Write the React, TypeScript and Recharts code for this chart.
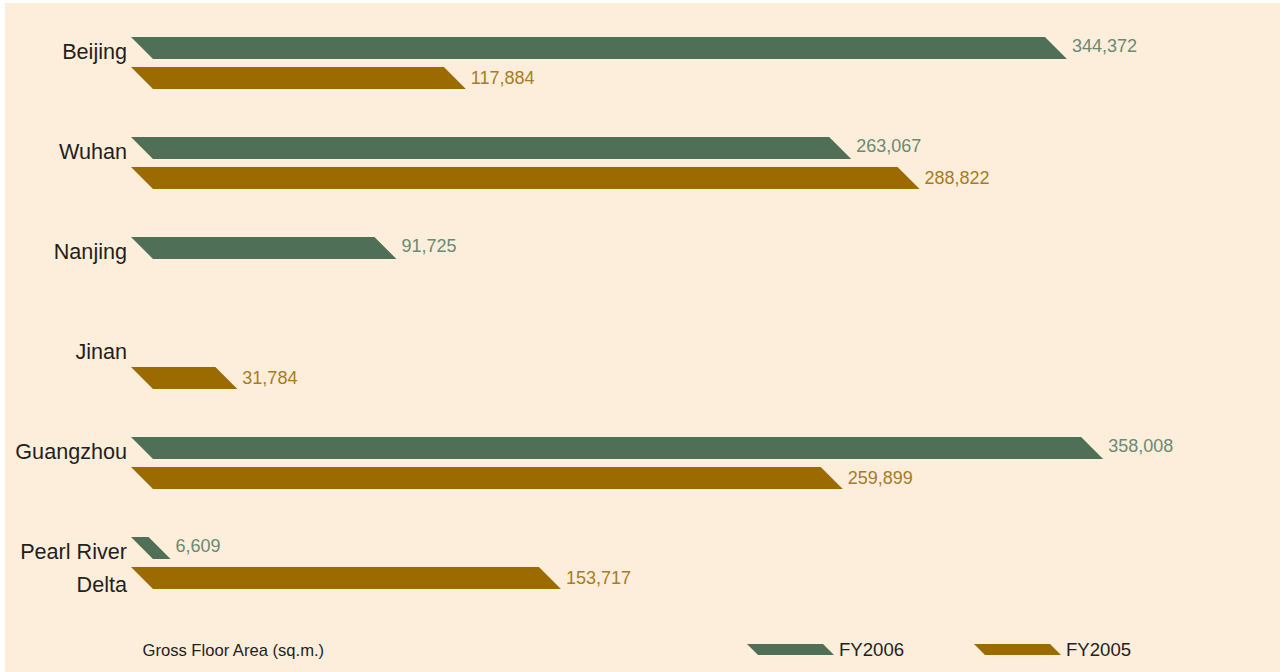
import React from 'react';
import { BarChart, Bar, XAxis, YAxis, Legend, LabelList } from 'recharts';

const categories = ['Beijing', 'Wuhan', 'Nanjing', 'Jinan', 'Guangzhou', 'Pearl River Delta'];
const categoryLines = [['Beijing'], ['Wuhan'], ['Nanjing'], ['Jinan'], ['Guangzhou'], ['Pearl River', 'Delta']];
const fy2006 = [344372, 263067, 91725, null, 358008, 6609];
const fy2005 = [117884, 288822, null, 31784, 259899, 153717];
const seriesNames = ['FY2006', 'FY2005'];
const seriesColors = ['#506f57', '#9c6b00'];
const labelColors = ['#6b8a71', '#a87c22'];
const labelRaise = [7, 5];
const axisTitle = 'Gross Floor Area (sq.m.)';
const xDomain = [0, 400000];

const FONT = '"Liberation Sans", Arial, Helvetica, sans-serif';
const TEXT = '#231f20';
const BG = '#fdeedc';

const data = categories.map((c, i) => ({ name: c, fy2006: fy2006[i], fy2005: fy2005[i] }));

const CategoryTick = (props: any) => {
  const { x, y, payload } = props;
  const idx = categories.indexOf(payload.value);
  const lines = idx >= 0 ? categoryLines[idx] : [String(payload.value)];
  return (
    <text x={x} y={y} textAnchor="end" fontSize={21.6} fill={TEXT} fontFamily={FONT}>
      {lines.map((l, i) => (
        <tspan key={i} x={x} dy={i === 0 ? -4 : 33}>{l}</tspan>
      ))}
    </text>
  );
};

const SlantedBar = (props: any) => {
  const { x, y, width, height, fill } = props;
  if (width == null || width <= 0 || height == null) return null;
  const s = height;
  return (
    <path
      d={`M${x},${y}L${x + width},${y}L${x + width + s},${y + height}L${x + s},${y + height}Z`}
      fill={fill}
    />
  );
};

const makeValueLabel = (color: string, raise: number) => (props: any) => {
  const { x, y, width, height, value } = props;
  if (value == null || !width) return null;
  return (
    <text
      x={Number(x) + Number(width) + Number(height) + 5}
      y={Number(y) + Number(height) - raise}
      fill={color}
      fontSize={18}
      fontFamily={FONT}
    >
      {Number(value).toLocaleString('en-US')}
    </text>
  );
};

const renderLegend = (props: any) => {
  const payload = (props && props.payload) || [];
  const items = seriesNames.map((n, i) => {
    const p = payload.find((q: any) => q.value === n);
    return { name: n, color: (p && p.color) || seriesColors[i] };
  });
  return (
    <svg width={1275} height={50} style={{ display: 'block' }}>
      <text x={137.5} y={43} fontSize={16.6} fill={TEXT} fontFamily={FONT}>{axisTitle}</text>
      {items.map((it, i) => {
        const x0 = 742 + i * 227;
        return (
          <g key={it.name}>
            <path d={`M${x0},31L${x0 + 76},31L${x0 + 87},42L${x0 + 11},42Z`} fill={it.color} />
            <text x={x0 + 92} y={43} fontSize={18.6} fill={TEXT} fontFamily={FONT}>{it.name}</text>
          </g>
        );
      })}
    </svg>
  );
};

export default function App() {
  return (
    <div style={{ position: 'absolute', left: 5, top: 3, width: 1275, height: 669, background: BG }}>
      <BarChart
        width={1275}
        height={669}
        data={data}
        layout="vertical"
        margin={{ top: 10, right: 87.4, bottom: 9, left: 0 }}
        barGap={8}
      >
        <XAxis type="number" domain={xDomain} hide />
        <YAxis
          type="category"
          dataKey="name"
          width={126}
          axisLine={false}
          tickLine={false}
          tickSize={0}
          tickMargin={4}
          tick={<CategoryTick />}
          interval={0}
        />
        <Legend
          verticalAlign="bottom"
          content={renderLegend}
          wrapperStyle={{ left: 0, bottom: 9, width: 1275, height: 50 }}
        />
        <Bar dataKey="fy2006" name={seriesNames[0]} fill={seriesColors[0]} barSize={22} shape={<SlantedBar />} isAnimationActive={false}>
          <LabelList dataKey="fy2006" content={makeValueLabel(labelColors[0], labelRaise[0])} />
        </Bar>
        <Bar dataKey="fy2005" name={seriesNames[1]} fill={seriesColors[1]} barSize={22} shape={<SlantedBar />} isAnimationActive={false}>
          <LabelList dataKey="fy2005" content={makeValueLabel(labelColors[1], labelRaise[1])} />
        </Bar>
      </BarChart>
    </div>
  );
}
